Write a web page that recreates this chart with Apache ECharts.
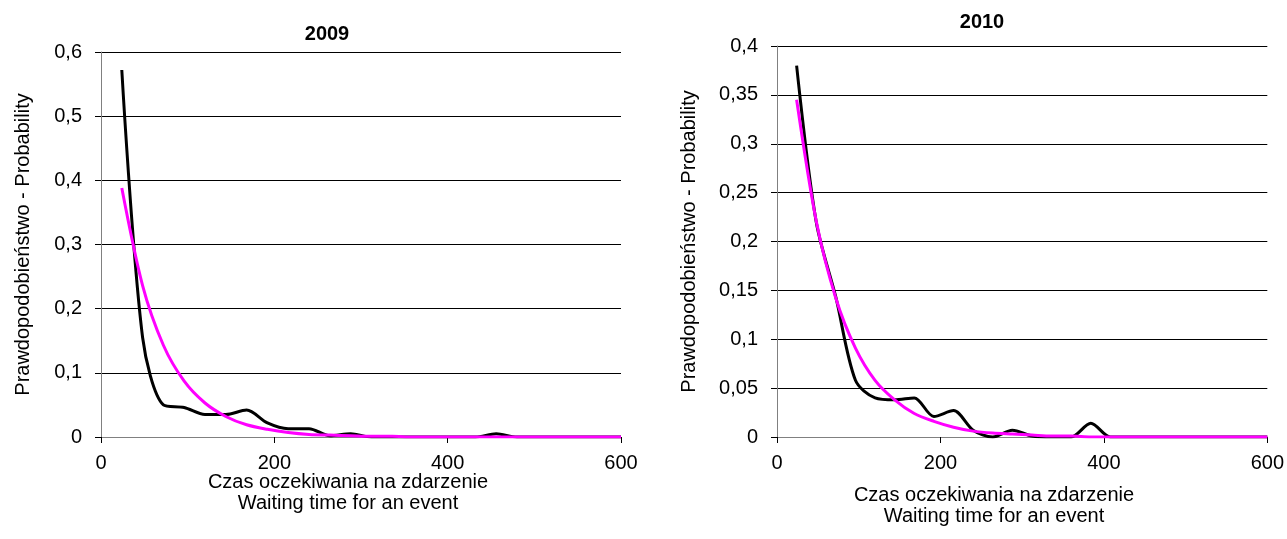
<!DOCTYPE html>
<html>
<head>
<meta charset="utf-8">
<script src="https://cdn.jsdelivr.net/npm/echarts@6/dist/echarts.min.js"></script>
<style>
  html, body { margin: 0; padding: 0; background: #fff; }
  #chart { width: 1287px; height: 539px; }
</style>
</head>
<body>
<div id="chart"></div>
<script>
// czas oczekiwania (x) - wspolne dla obu lat
const waitTimes = [24, 48, 72, 96, 120, 144, 168, 192, 216, 240, 264, 288, 312,
  336, 360, 384, 408, 432, 456, 480, 504, 528, 552, 576, 600]

// 2009
const empirical2009 = [0.572, 0.155, 0.05, 0.046, 0.035, 0.035, 0.042, 0.022, 0.013, 0.013, 0.002, 0.005, 0,
  0, 0, 0, 0, 0, 0.005, 0, 0, 0, 0, 0, 0]
const fitted2009 = [0.388, 0.236, 0.143, 0.087, 0.053, 0.032, 0.019, 0.012, 0.007, 0.004, 0.003, 0.002, 0.001,
  0.001, 0, 0, 0, 0, 0, 0, 0, 0, 0, 0, 0]

// 2010
const empirical2010 = [0.38, 0.22, 0.143, 0.058, 0.04, 0.038, 0.04, 0.021, 0.027, 0.007, 0, 0.007, 0.001,
  0, 0, 0.014, 0, 0, 0, 0, 0, 0, 0, 0, 0]
const fitted2010 = [0.345, 0.221, 0.142, 0.091, 0.058, 0.038, 0.024, 0.016, 0.01, 0.006, 0.004, 0.003, 0.002,
  0.001, 0.001, 0, 0, 0, 0, 0, 0, 0, 0, 0, 0]

const xTicks = [0, 200, 400, 600]
const yTicks2009 = [0, 0.1, 0.2, 0.3, 0.4, 0.5, 0.6]
const yTicks2010 = [0, 0.05, 0.1, 0.15, 0.2, 0.25, 0.3, 0.35, 0.4]

const FONT = 'Liberation Sans, Arial, sans-serif'
const fs = 20
const xTitle = 'Czas oczekiwania na zdarzenie\nWaiting time for an event'

function pairs(ys) {
  return waitTimes.map((x, i) => [x, ys[i]])
}

function fmtComma(v) {
  return String(Number(v.toFixed(2))).replace('.', ',')
}

function xAxisCfg(gridIndex) {
  return {
    type: 'value',
    gridIndex: gridIndex,
    min: xTicks[0],
    max: xTicks[xTicks.length - 1],
    interval: xTicks[1] - xTicks[0],
    axisLine: { show: true, onZero: false, lineStyle: { color: '#808080', width: 1 } },
    axisTick: { show: true, length: 6, lineStyle: { color: '#000' } },
    axisLabel: { color: '#000', fontFamily: FONT, fontSize: fs, margin: 16 },
    splitLine: { show: false }
  }
}

function yAxisCfg(gridIndex, ticks, gap) {
  return {
    type: 'value',
    gridIndex: gridIndex,
    min: ticks[0],
    max: ticks[ticks.length - 1],
    interval: ticks[1] - ticks[0],
    axisLine: { show: true, lineStyle: { color: '#808080', width: 1 } },
    axisTick: { show: true, length: 6, lineStyle: { color: '#000' } },
    axisLabel: { color: '#000', fontFamily: FONT, fontSize: fs, margin: 19, formatter: fmtComma },
    splitLine: { show: true, lineStyle: { color: '#000', width: 1 } },
    name: 'Prawdopodobieństwo - Probability',
    nameLocation: 'middle',
    nameGap: gap,
    nameTextStyle: { color: '#000', fontFamily: FONT, fontSize: fs }
  }
}

function lineSeries(xi, data, color) {
  return {
    type: 'line',
    xAxisIndex: xi,
    yAxisIndex: xi,
    data: pairs(data),
    smooth: 0.3,
    showSymbol: false,
    lineStyle: { color: color, width: 3 },
    itemStyle: { color: color },
    z: color === '#ff00ff' ? 3 : 2
  }
}

const chart = echarts.init(document.getElementById('chart'), null, { renderer: 'canvas' })
const option = {
  animation: false,
  backgroundColor: '#fff',
  title: [
    { text: '2009', left: 322, top: 19, textAlign: 'center',
      textStyle: { fontFamily: FONT, fontSize: fs, fontWeight: 'bold', color: '#000' } },
    { text: '2010', left: 977, top: 7, textAlign: 'center',
      textStyle: { fontFamily: FONT, fontSize: fs, fontWeight: 'bold', color: '#000' } }
  ],
  grid: [
    { left: 101, right: 666, top: 52, bottom: 102 },
    { left: 777, right: 18, top: 46, bottom: 102 }
  ],
  xAxis: [xAxisCfg(0), xAxisCfg(1)],
  yAxis: [yAxisCfg(0, yTicks2009, 68), yAxisCfg(1, yTicks2010, 78)],
  graphic: [
    { type: 'text', x: 348, y: 472, style: { text: xTitle, align: 'center',
        lineHeight: 21, fill: '#000', font: fs + 'px ' + FONT } },
    { type: 'text', x: 994, y: 485, style: { text: xTitle, align: 'center',
        lineHeight: 21, fill: '#000', font: fs + 'px ' + FONT } }
  ],
  series: [
    lineSeries(0, empirical2009, '#000000'),
    lineSeries(0, fitted2009, '#ff00ff'),
    lineSeries(1, empirical2010, '#000000'),
    lineSeries(1, fitted2010, '#ff00ff')
  ]
}
chart.setOption(option)
</script>
</body>
</html>
